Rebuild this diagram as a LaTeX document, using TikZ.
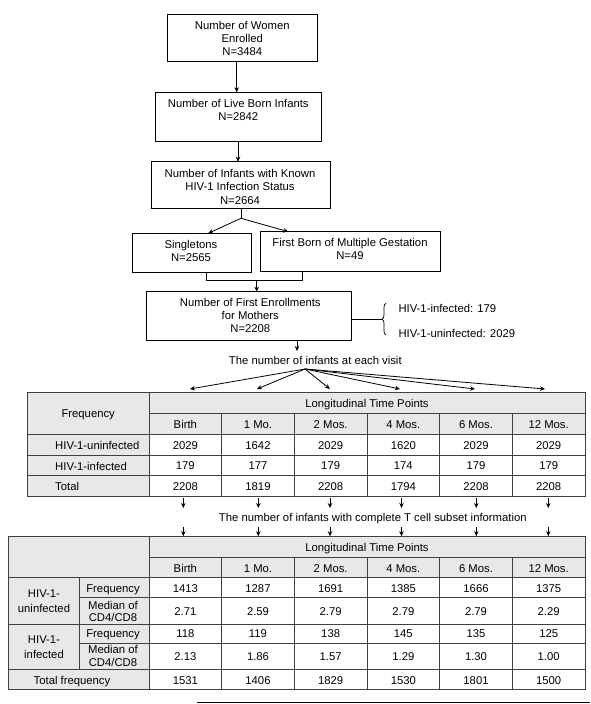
\documentclass[tikz,border=0pt]{standalone}
\usepackage{fontspec}
\setmainfont{Liberation Sans}
\usetikzlibrary{arrows.meta,decorations.pathreplacing}
\definecolor{hdr}{RGB}{232,232,232}
\newcommand\fsz{\fontsize{11.3}{13.3}\selectfont}
\begin{document}
\begin{tikzpicture}[x=1pt,y=-1pt,
 box/.style={draw, line width=0.8pt, inner sep=0pt, outer sep=0pt},
 t/.style={font=\fsz, align=center, inner sep=0pt, anchor=north},
 tl/.style={font=\fsz, inner sep=0pt, anchor=north west},
 arr/.style={line width=0.8pt, -{Stealth[length=5pt,width=4.5pt]}},
 ln/.style={line width=0.8pt},
 grid/.style={line width=0.7pt, draw=black!75}]
\useasboundingbox (0,0) rectangle (591,704);

% ---------- flow chart ----------
\node[box, minimum width=150.4pt, minimum height=47.3pt] (b1) at (242.5,37.65) {};
\node[t] at (242.3,21) {Number of Women\\Enrolled\\N=3484};
\node[box, minimum width=166pt, minimum height=49.4pt] (b2) at (238,117) {};
\node[t] at (238.3,99.3) {Number of Live Born Infants\\N=2842};
\node[box, minimum width=179pt, minimum height=46.6pt] (b3) at (240.5,185) {};
\node[t] at (240,169.3) {Number of Infants with Known\\HIV-1 Infection Status\\N=2664};
\node[box, minimum width=119pt, minimum height=39pt] (sing) at (192.2,252.8) {};
\node[t] at (191,240.3) {Singletons\\N=2565};
\node[box, minimum width=180.7pt, minimum height=39.3pt] (fb) at (350.35,251.35) {};
\node[t] at (350,238.3) {First Born of Multiple Gestation\\N=49};
\node[box, minimum width=205.7pt, minimum height=48.3pt] (b4) at (248.85,315.85) {};
\node[t] at (250.3,297.7) {Number of First Enrollments\\for Mothers\\N=2208};

\draw[arr] ([xshift=-5.8pt]b1.south) -- ([xshift=-5.8pt]b1.south |- b2.north);
\draw[arr] (b2.south) -- (b2.south |- b3.north);
\coordinate (sp) at (241,218.3);
\draw[ln] (b3.south -| sp) -- (sp);
\draw[arr] (sp) -- ([xshift=16pt]sing.north);
\draw[arr] (sp) -- ([xshift=-62pt]fb.north);
\coordinate (mg) at (256.7,280.7);
\draw[ln] ([xshift=13.8pt]sing.south) |- (mg) -| ([xshift=-47.7pt]fb.south);
\draw[arr] (mg) -- (mg |- b4.north);

% brace
\coordinate (brt) at (382,319.2);
\draw[ln] (b4.east |- brt) -- (brt);
\draw[line width=0.7pt, decorate, decoration={brace, amplitude=4pt}] (386,335) -- (386,303.3);
\node[tl] at (398.3,304.3) {HIV-1-infected: 179};
\node[tl] at (398.3,329) {HIV-1-uninfected: 2029};

% visit text and fan
\node[t] (vis) at (315.3,356) {The number of infants at each visit};
\coordinate (a4) at (297,0);
\coordinate (a4e) at (297,351);
\draw[arr] (b4.south -| a4) -- (a4e);
\coordinate (fan) at (305,369);
\foreach \x [count=\i] in {190,257,330,400,475,545} {
  \coordinate (f\i) at (\x,389);
  \draw[arr] (fan) -- (f\i);
}

% ---------- table 1 ----------
\fill[hdr] (27.3,392.3) rectangle (585,434.3);
\fill[hdr] (27.3,434.3) rectangle (149,496.7);
\draw[grid] (27.3,392.3) rectangle (585,496.7);
\draw[grid] (149,413.3) -- (585,413.3);
\foreach \y in {434.3,455,475.7} \draw[grid] (27.3,\y) -- (585,\y);
\draw[grid] (149,392.3) -- (149,496.7);
\foreach \x in {221.67,294.33,367,439.67,512.33} \draw[grid] (\x,413.3) -- (\x,496.7);

\node[t] at (367,399.3) {Longitudinal Time Points};
\node[t] at (88.2,410) {Frequency};
\foreach \v [count=\i from 0] in {Birth,1 Mo.,2 Mos.,4 Mos.,6 Mos.,12 Mos.}
  \node[t] at (185.33+72.67*\i,420.3) {\v};
\node[tl] at (55,441) {HIV-1-uninfected};
\node[tl] at (55,461.7) {HIV-1-infected};
\node[tl] at (55,482) {Total};
\foreach \v [count=\i from 0] in {2029,1642,2029,1620,2029,2029}
  \node[t] at (185.33+72.67*\i,441) {\v};
\foreach \v [count=\i from 0] in {179,177,179,174,179,179}
  \node[t] at (185.33+72.67*\i,461.7) {\v};
\foreach \v [count=\i from 0] in {2208,1819,2208,1794,2208,2208}
  \node[t] at (185.33+72.67*\i,482) {\v};

% arrows between tables
\foreach \x [count=\i] in {183.3,258.3,330,401.5,476.3,548.3} {
  \coordinate (u\i) at (\x,498);
  \coordinate (v\i) at (\x,508);
  \draw[arr] (u\i) -- (v\i);
  \coordinate (w\i) at (\x,526.7);
  \coordinate (z\i) at (\x,536.2);
  \draw[arr] (w\i) -- (z\i);
}
\node[t] at (372.8,512.7) {The number of infants with complete T cell subset information};

% ---------- table 2 ----------
\fill[hdr] (8.3,536.7) rectangle (585,577.3);
\fill[hdr] (8.3,577.3) rectangle (149,689.3);
\draw[grid] (8.3,536.7) rectangle (585,689.3);
\draw[grid] (149,557.3) -- (585,557.3);
\foreach \y in {577.3,624,669} \draw[grid] (8.3,\y) -- (585,\y);
\foreach \y in {597.7,643.3} \draw[grid] (79,\y) -- (585,\y);
\draw[grid] (149,536.7) -- (149,689.3);
\draw[grid] (79,577.3) -- (79,669);
\foreach \x in {221.67,294.33,367,439.67,512.33} \draw[grid] (\x,557.3) -- (\x,689.3);

\node[t] at (367,543.3) {Longitudinal Time Points};
\foreach \v [count=\i from 0] in {Birth,1 Mo.,2 Mos.,4 Mos.,6 Mos.,12 Mos.}
  \node[t] at (185.33+72.67*\i,564.3) {\v};
\node[t, font=\fontsize{11.3}{15}\selectfont] at (44,589.3) {HIV-1-\\uninfected};
\node[t, font=\fontsize{11.3}{15}\selectfont] at (44,636) {HIV-1-\\infected};
\node[t] at (113,584.3) {Frequency};
\node[t, font=\fontsize{11.3}{12.5}\selectfont] at (113,601) {Median of\\CD4/CD8};
\node[t] at (113,629.3) {Frequency};
\node[t, font=\fontsize{11.3}{12.5}\selectfont] at (113,645.5) {Median of\\CD4/CD8};
\node[t] at (72,676) {Total frequency};
\foreach \v [count=\i from 0] in {1413,1287,1691,1385,1666,1375}
  \node[t] at (185.33+72.67*\i,584.3) {\v};
\foreach \v [count=\i from 0] in {2.71,2.59,2.79,2.79,2.79,2.29}
  \node[t] at (185.33+72.67*\i,607.7) {\v};
\foreach \v [count=\i from 0] in {118,119,138,145,135,125}
  \node[t] at (185.33+72.67*\i,629.3) {\v};
\foreach \v [count=\i from 0] in {2.13,1.86,1.57,1.29,1.30,1.00}
  \node[t] at (185.33+72.67*\i,652.7) {\v};
\foreach \v [count=\i from 0] in {1531,1406,1829,1530,1801,1500}
  \node[t] at (185.33+72.67*\i,676) {\v};

% bottom rule
\coordinate (bl1) at (196.7,702.5);
\coordinate (bl2) at (590,702.5);
\draw[ln] (bl1) -- (bl2);
\end{tikzpicture}
\end{document}
